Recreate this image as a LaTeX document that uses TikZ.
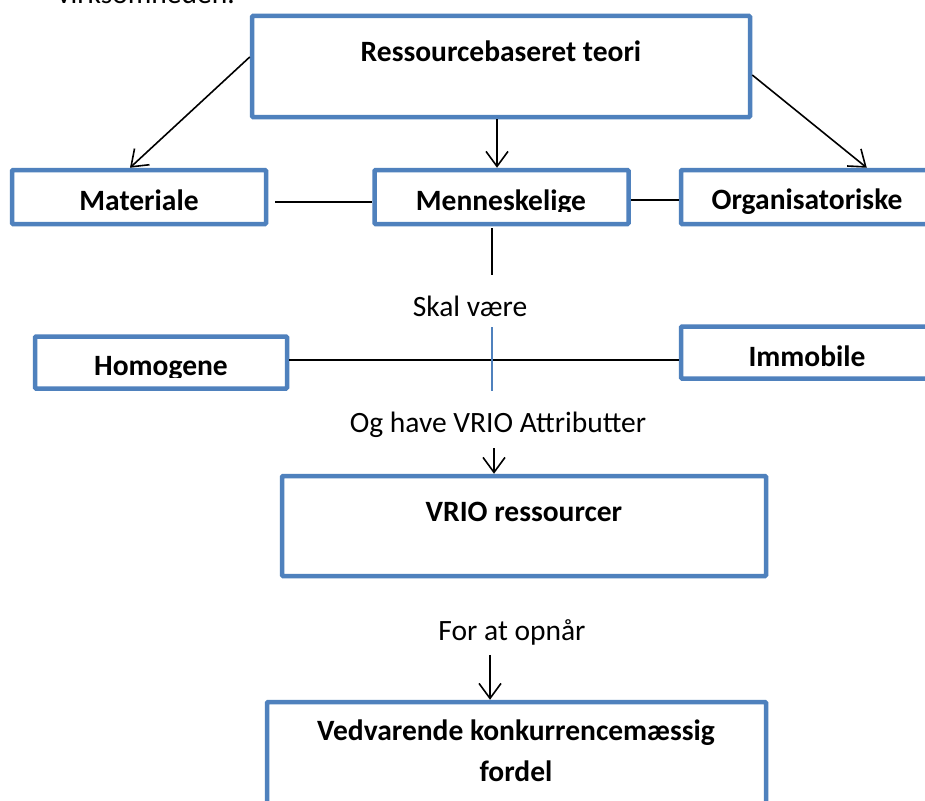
\documentclass[tikz,border=0pt]{standalone}
\usepackage{fontspec}
\setmainfont{Carlito}
\usetikzlibrary{arrows.meta,calc}
\definecolor{boxblue}{HTML}{4F81BD}
\tikzset{
  box/.style={draw=boxblue, line width=4.5pt, rounded corners=1pt, inner sep=0pt, fill=white},
  lbl/.style={font=\fontsize{29.5}{35}\selectfont\bfseries, anchor=base, inner sep=0pt},
  txt/.style={font=\fontsize{29.5}{35}\selectfont, anchor=base, inner sep=0pt},
  conn/.style={line width=1.6pt, black},
  arr/.style={conn, -{Straight Barb[length=15pt,width=22pt,line width=1.6pt]}},
}
\begin{document}
\begin{tikzpicture}[x=1pt,y=-1pt]
\clip (0,0) rectangle (925,800);
\useasboundingbox (0,0) rectangle (925,800);
\fill[white] (0,0) rectangle (925,800);

% boxes (centre lines of stroke)
\node[box, minimum width=498pt, minimum height=101pt] (top) at (501,66.5) {};
\node[box, minimum width=254pt, minimum height=54pt] (mat) at (139,197) {};
\node[box, minimum width=254pt, minimum height=54pt] (men) at (501.5,197) {};
\node[box, minimum width=264pt, minimum height=54pt] (org) at (813,197) {};
\node[box, minimum width=252pt, minimum height=52pt] (hom) at (161,362.5) {};
\node[box, minimum width=264pt, minimum height=52pt] (imm) at (813,352.5) {};
\node[box, minimum width=484pt, minimum height=100pt] (vrio) at (524,526) {};
\node[box, minimum width=499pt, minimum height=120pt] (ved) at (516.5,762) {};

% texts
\node[txt] (virk) at (146,4) {virksomheden.};
\node[lbl] (toptxt) at (501,61) {Ressourcebaseret teori};
\node[lbl] (mattxt) at (139,210) {Materiale};
\begin{scope}
\clip (376,172) rectangle (627,211.5);
\node[lbl] (mentxt) at (501,210) {Menneskelige};
\end{scope}
\node[lbl] (orgtxt) at (807,209) {Organisatoriske};
\begin{scope}
\clip (36,338) rectangle (286,377);
\node[lbl] (homtxt) at (161,375) {Homogene};
\end{scope}
\node[lbl] (immtxt) at (807,366) {Immobile};
\node[lbl] (vriotxt) at (524,521) {VRIO ressourcer};
\node[lbl] (ved1) at (516,740) {Vedvarende konkurrencemæssig};
\node[lbl] (ved2) at (516,781) {fordel};
\node[txt] (skal) at (470,316) {Skal være};
\node[txt] (og) at (498,432) {Og have VRIO Attributter};
\node[txt] (for) at (512,640) {For at opnår};

% connectors
\draw[arr] ($(top.west)+(0,-9.5)$) -- ($(mat.north)+(-9,0)$);
\draw[arr] ($(top.south)+(-4,0)$) -- ($(men.north)+(-4.5,0)$);
\draw[arr] ($(top.east)+(0,8.5)$) -- ($(org.north west)+(188,0)$);
\draw[conn] ($(mat.east)+(7,5)$) -- ($(men.west)+(0,5)$);
\draw[conn] ($(men.east)+(0,3)$) -- ($(org.west)+(0,3)$);
\coordinate (menend) at (492,275);
\draw[conn] ($(men.south)+(-9.5,2)$) -- (menend);
\draw[conn] ($(hom.east)+(0,-2.5)$) -- ($(imm.west)+(0,7.5)$);
\coordinate (bl1) at (492,327);
\coordinate (bl2) at (492,391);
\draw[boxblue, line width=1.8pt] (bl1) -- (bl2);
\draw[arr] ($(og.south)+(-4,11)$) -- ($(vrio.north)+(-30,0)$);
\draw[arr] ($(for.south)+(-22,10)$) -- ($(ved.north)+(-26.5,0)$);
\end{tikzpicture}
\end{document}
